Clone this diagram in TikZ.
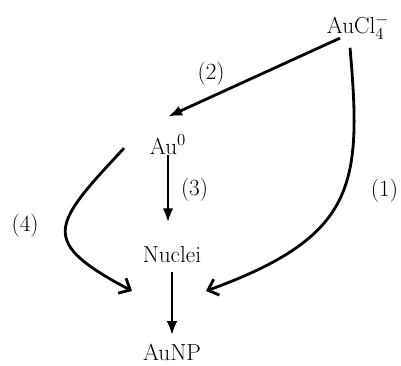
\documentclass[tikz,border=0pt]{standalone}
\usetikzlibrary{positioning,arrows.meta}
\begin{document}
\begin{tikzpicture}[auto, node distance=2.75cm and 1cm, on grid,
  line width=2pt,
  species/.style={font=\fontsize{16.5}{20}\selectfont, inner sep=5pt},
  steplabel/.style={font=\fontsize{16.5}{20}\selectfont, inner sep=4pt},
  straight/.style={-{Latex[length=10pt,width=7.5pt]}},
  curved/.style={-{Straight Barb[length=6.5pt,width=12pt]}}
]
\useasboundingbox (-4.3,-2.75) rectangle (5.725,6.375);
\node[species] (Nuclei) {Nuclei};
\node[species] (AuNP) [below=2.425cm of Nuclei] {AuNP};
\node[species] (Au0) [above left=2.75cm and 0.1cm of Nuclei] {Au$^0$};
\node[species] (AuCl) [above right=2.95cm and 4.75cm of Au0] {AuCl$_4^-$};
\coordinate[below right=0.9cm and 0.85cm of Nuclei] (T1);
\coordinate[below left=0.9cm and 1cm of Nuclei] (T4);
\coordinate[below left=0.08cm and 1.1cm of Au0] (S4);
% reduction and growth steps
\draw[straight] ([xshift=-0.45cm,yshift=-0.12cm]AuCl.base) -- node[steplabel, swap, pos=0.63, yshift=-0.12cm] {(2)} ([yshift=0.25cm]Au0.north);
\draw[straight, shorten >=0.4cm] (Au0.base) -- node[steplabel, pos=0.42, xshift=0.15cm] {(3)} (Au0.base |- Nuclei.north);
\draw[straight] (Nuclei) -- (AuNP);
\draw[curved] ([xshift=-0.2cm]AuCl.south) to[out=-85, in=20, out looseness=1.25, in looseness=1.45]
  node[steplabel, pos=0.38, xshift=0.37cm] {(1)} (T1);
\draw[curved] (S4) to[out=227, in=152, looseness=1.9]
  node[steplabel, swap, pos=0.5, xshift=-0.5cm, yshift=0.1cm] {(4)} (T4);
\end{tikzpicture}
\end{document}
